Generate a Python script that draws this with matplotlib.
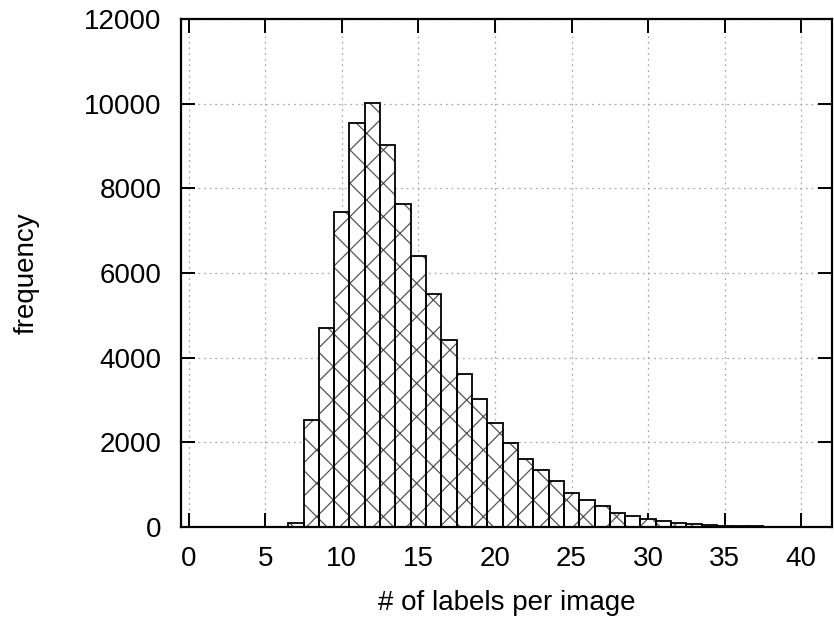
import matplotlib
matplotlib.use('Agg')
import matplotlib.pyplot as plt

plt.rcParams['font.family'] = ['Liberation Sans', 'DejaVu Sans']
plt.rcParams['hatch.linewidth'] = 0.9

# histogram of label counts per image (bin = number of labels)
labels = list(range(0, 42))
counts = [0, 0, 0, 0, 0, 0, 0, 90, 2530, 4700,
          7440, 9550, 10020, 9030, 7630, 6390, 5500, 4420, 3610, 3010,
          2460, 1970, 1610, 1350, 1090, 790, 640, 480, 330, 265,
          195, 135, 80, 55, 38, 25, 15, 8, 5, 3,
          2, 1]

xticks = list(range(0, 41, 5))
yticks = list(range(0, 12001, 2000))

fig = plt.figure(figsize=(8.34, 6.19), dpi=100)
ax = fig.add_axes([0.217, 0.149, 0.7805, 0.82])

# hatch fill first, then black outlines on top
ax.bar(labels, counts, width=1.0, color='white', edgecolor='#555555',
       hatch='x', linewidth=0, zorder=2)
ax.bar(labels, counts, width=1.0, fill=False, edgecolor='black',
       linewidth=1.3, zorder=3)

ax.set_xlim(-0.5, 42)
ax.set_ylim(0, 12000)
ax.set_xticks(xticks)
ax.set_yticks(yticks)
ax.tick_params(direction='in', length=10, width=1.4, top=True, right=True,
               labelsize=20, pad=14)

for s in ax.spines.values():
    s.set_linewidth(1.6)

ax.grid(True, color='#aaaaaa', linestyle=(0, (1.5, 3)), linewidth=0.9, zorder=1)
ax.set_axisbelow(True)

ax.set_xlabel('# of labels per image', fontsize=20, labelpad=13)
ax.set_ylabel('frequency', fontsize=20, labelpad=32)

fig.savefig('out.png', dpi=100)
